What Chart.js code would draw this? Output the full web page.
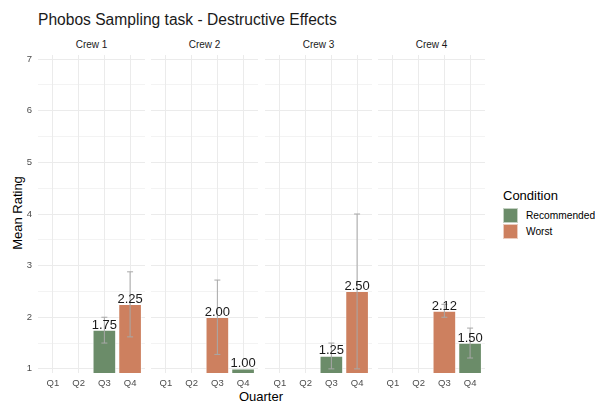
<!DOCTYPE html>
<html>
<head>
<meta charset="utf-8">
<script src="https://cdn.jsdelivr.net/npm/chart.js@4.4.1/dist/chart.umd.min.js"></script>
<style>
  html, body { margin: 0; padding: 0; background: #fff; }
  body { font-family: "Liberation Sans", Arial, sans-serif; }
  #wrap { position: relative; width: 595px; height: 401px; overflow: hidden; background: #fff; }
  #wrap canvas { position: absolute; }
  .txt { position: absolute; white-space: nowrap; line-height: 1; }
  .strip { font-size: 10px; color: #1a1a1a; text-align: center; width: 107px; top: 40px; }
  .key { position: absolute; width: 15px; height: 15px; box-sizing: border-box; border: 1px solid rgba(255,255,255,0.6); }
</style>
</head>
<body>
<div id="wrap">
  <div class="txt" style="left:38px; top:12px; font-size:15.6px; color:#1a1a1a;">Phobos Sampling task - Destructive Effects</div>
  <div class="txt" style="left:17px; top:213px; font-size:13px; color:#000; transform: translate(-50%, -50%) rotate(-90deg);">Mean Rating</div>
  <div class="txt" style="left:261px; top:390px; font-size:13px; color:#000; transform: translateX(-50%);">Quarter</div>
  <div id="legend"></div>
</div>
<script>
// données du graphique
const crews = ['Crew 1', 'Crew 2', 'Crew 3', 'Crew 4'];
const quarters = ['Q1', 'Q2', 'Q3', 'Q4'];
const yTicks = [1, 2, 3, 4, 5, 6, 7];

// une ligne par équipage, une colonne par trimestre
const recommended = [
    [null, null, 1.75, null],
    [null, null, null, 1.00],
    [null, null, 1.25, null],
    [null, null, null, 1.50]
];
const worst = [
    [null, null, null, 2.25],
    [null, null, 2.00, null],
    [null, null, null, 2.50],
    [null, null, 2.12, null]
];
// barres d'erreur (bas / haut)
const errLow = [
    [null, null, 1.50, 1.62],
    [null, null, 1.28, null],
    [null, null, 1.00, 1.00],
    [null, null, 2.00, 1.21]
];
const errHigh = [
    [null, null, 2.00, 2.88],
    [null, null, 2.72, null],
    [null, null, 1.50, 4.00],
    [null, null, 2.25, 1.79]
];

const colRecommended = '#6b8c69';
const colWorst = '#cd805f';
const fontFamily = '"Liberation Sans", Arial, sans-serif';

const panelLefts = [38, 151, 265, 378];
const panelWidth = 107;
const panelTop = 55;
const panelBottom = 373;

// plugin : barres d'erreur + étiquettes de valeur
const barExtras = {
    id: 'barExtras',
    afterDatasetsDraw(chart) {
        const ctx = chart.ctx;
        const c = chart.options.crewIndex;
        const yScale = chart.scales.y;
        ctx.save();
        chart.data.datasets.forEach((ds, di) => {
            const meta = chart.getDatasetMeta(di);
            meta.data.forEach((bar, j) => {
                const q = ds.data[j].x;
                const lo = errLow[c][q];
                const hi = errHigh[c][q];
                if (lo !== null && hi !== null) {
                    const yl = yScale.getPixelForValue(lo);
                    const yh = yScale.getPixelForValue(hi);
                    ctx.strokeStyle = '#a8a8a8';
                    ctx.lineWidth = 1;
                    ctx.beginPath();
                    ctx.moveTo(bar.x, yl); ctx.lineTo(bar.x, yh);
                    ctx.moveTo(bar.x - 3, yl); ctx.lineTo(bar.x + 3, yl);
                    ctx.moveTo(bar.x - 3, yh); ctx.lineTo(bar.x + 3, yh);
                    ctx.stroke();
                }
            });
        });
        chart.data.datasets.forEach((ds, di) => {
            const meta = chart.getDatasetMeta(di);
            meta.data.forEach((bar, j) => {
                ctx.fillStyle = '#1a1a1a';
                ctx.font = '13px ' + fontFamily;
                ctx.textAlign = 'center';
                ctx.textBaseline = 'alphabetic';
                ctx.fillText(ds.data[j].y.toFixed(2), bar.x, bar.y - 1.5);
            });
        });
        ctx.restore();
    }
};

function toPoints(row) {
    return row.map((v, i) => ({ x: i, y: v })).filter(p => p.y !== null);
}

const wrap = document.getElementById('wrap');

crews.forEach((crew, c) => {
    const first = c === 0;
    const canvasLeft = first ? 0 : panelLefts[c];
    const canvasWidth = first ? panelLefts[0] + panelWidth : panelWidth;
    const canvasTop = 50;
    const canvasHeight = 350;

    const canvas = document.createElement('canvas');
    canvas.width = canvasWidth;
    canvas.height = canvasHeight;
    canvas.style.left = canvasLeft + 'px';
    canvas.style.top = canvasTop + 'px';
    canvas.style.width = canvasWidth + 'px';
    canvas.style.height = canvasHeight + 'px';
    wrap.appendChild(canvas);

    // titre du panneau
    const strip = document.createElement('div');
    strip.className = 'txt strip';
    strip.style.left = panelLefts[c] + 'px';
    strip.textContent = crew;
    wrap.appendChild(strip);

    new Chart(canvas.getContext('2d'), {
        type: 'bar',
        data: {
            datasets: [
                { label: 'Recommended', data: toPoints(recommended[c]), backgroundColor: colRecommended },
                { label: 'Worst', data: toPoints(worst[c]), backgroundColor: colWorst }
            ]
        },
        options: {
            crewIndex: c,
            responsive: false,
            animation: false,
            devicePixelRatio: 1,
            layout: { padding: { top: panelTop - canvasTop, left: 0, right: 0, bottom: 0 } },
            datasets: {
                bar: {
                    grouped: false,
                    barThickness: 23,
                    borderWidth: 1,
                    borderColor: 'rgba(255,255,255,0.5)',
                    borderSkipped: false
                }
            },
            plugins: { legend: { display: false }, tooltip: { enabled: false } },
            scales: {
                x: {
                    type: 'linear',
                    min: -0.58,
                    max: 3.58,
                    offset: false,
                    afterBuildTicks: scale => { scale.ticks = quarters.map((q, i) => ({ value: i })); },
                    afterFit: scale => {
                        scale.height = canvasTop + canvasHeight - panelBottom;
                        scale.paddingLeft = 0;
                        scale.paddingRight = 0;
                    },
                    border: { display: false },
                    grid: { color: '#ebebeb', lineWidth: 1, drawTicks: false, offset: false },
                    ticks: {
                        autoSkip: false,
                        maxRotation: 0,
                        padding: 5,
                        color: '#4d4d4d',
                        font: { family: fontFamily, size: 9.5 },
                        callback: v => quarters[v]
                    }
                },
                y: {
                    min: 0.92,
                    max: 7.08,
                    beginAtZero: false,
                    afterBuildTicks: scale => {
                        const t = [];
                        for (let v = 1; v <= 7; v += 0.5) t.push({ value: v });
                        scale.ticks = t;
                    },
                    afterFit: scale => {
                        scale.width = first ? panelLefts[0] : 0;
                        scale.paddingTop = 0;
                        scale.paddingBottom = 0;
                    },
                    border: { display: false },
                    grid: {
                        color: '#ebebeb',
                        drawTicks: false,
                        lineWidth: ctx => (ctx.tick && Number.isInteger(ctx.tick.value)) ? 1 : 0.6
                    },
                    ticks: {
                        display: first,
                        padding: 6,
                        color: '#4d4d4d',
                        font: { family: fontFamily, size: 9.5 },
                        callback: v => yTicks.includes(v) ? String(v) : ''
                    }
                }
            }
        },
        plugins: [barExtras]
    });
});

// légende
const legend = document.getElementById('legend');
legend.innerHTML =
    '<div class="txt" style="left:503px; top:189px; font-size:13px; color:#000;">Condition</div>' +
    '<div class="key" style="left:503px; top:208px; background:' + colRecommended + ';"></div>' +
    '<div class="txt" style="left:526px; top:211px; font-size:10.2px; color:#000;">Recommended</div>' +
    '<div class="key" style="left:503px; top:224px; background:' + colWorst + ';"></div>' +
    '<div class="txt" style="left:526px; top:227px; font-size:10.2px; color:#000;">Worst</div>';
</script>
</body>
</html>
